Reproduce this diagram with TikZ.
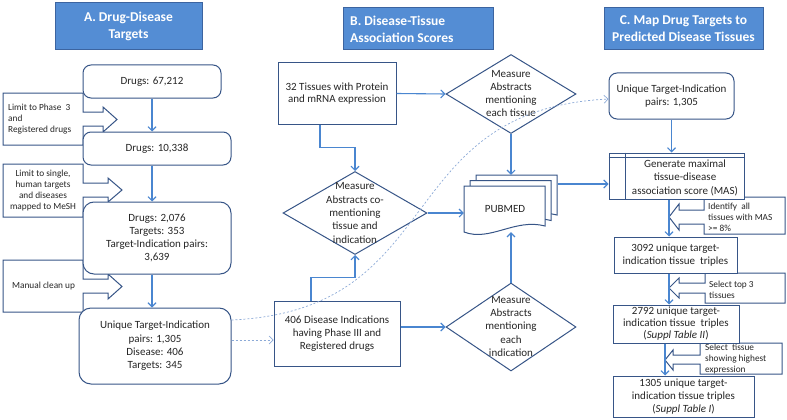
\documentclass[tikz,border=0pt]{standalone}
\usepackage{fontspec}
\setmainfont{Carlito}
\usetikzlibrary{shapes.geometric,arrows.meta,calc}
\definecolor{bord}{RGB}{55,85,135}
\definecolor{arrc}{RGB}{74,134,208}
\definecolor{hdr}{RGB}{84,141,212}
\definecolor{hdrb}{RGB}{60,100,160}
\definecolor{txt}{RGB}{38,38,38}
\definecolor{dsh}{RGB}{140,170,215}
\begin{document}
\begin{tikzpicture}[x=1pt,y=-1pt,
 every node/.style={text=txt},
 fnt/.style={font=\fontsize{11}{13.3}\selectfont},
 box/.style={draw=bord,line width=1pt,fill=white,inner sep=0pt,align=center,fnt},
 rbox/.style={box,rounded corners=8pt},
 hdrbox/.style={draw=hdrb,fill=hdr,line width=1pt,inner sep=0pt},
 hdrtxt/.style={inner sep=0pt,text=white,font=\bfseries\fontsize{13.5}{17}\selectfont},
 dia/.style={draw=bord,line width=1pt,fill=white,diamond,inner sep=0pt},
 lbl/.style={inner sep=0pt,align=center,fnt},
 cshape/.style={draw=bord,line width=1pt,fill=white,line join=miter},
 ctxt/.style={inner sep=0pt,font=\fontsize{9.3}{11}\selectfont},
 flow/.style={draw=arrc,line width=1.1pt,-{Straight Barb[length=4pt,width=8pt]}},
 dflow/.style={draw=dsh,line width=0.7pt,dash pattern=on 2pt off 2pt,-{Straight Barb[length=4pt,width=8pt]}},
]
\useasboundingbox (0,0) rectangle (787,420);

% ---------- headers ----------
\node[hdrbox,minimum width=147pt,minimum height=47pt] (ha) at (128.5,26.5) {};
\node[hdrtxt,align=center] (hat) at (ha) {A. Drug-Disease\\Targets};
\node[hdrbox,minimum width=150pt,minimum height=42pt] (hb) at (418,29) {};
\node[hdrtxt,align=left,anchor=west] (hbt) at (350,29) {B. Disease-Tissue\\Association Scores};
\node[hdrbox,minimum width=159pt,minimum height=42pt] (hc) at (683.5,29) {};
\node[hdrtxt,align=center] (hct) at (hc) {C. Map Drug Targets to\\Predicted Disease Tissues};

% ---------- callouts column A ----------
\draw[cshape] (3,93) -- (83,93) -- (83,112) -- (103,112) -- (103,107) -- (117,119.5) -- (103,132) -- (103,126) -- (83,126) -- (83,145) -- (3,145) -- cycle;
\node[ctxt,anchor=west,align=left] (ca1) at (8,119) {Limit to Phase\ \ 3\\and\\Registered drugs};
\draw[cshape] (3,164) -- (83,164) -- (83,183) -- (108,183) -- (108,178) -- (122,190) -- (108,202) -- (108,197) -- (83,197) -- (83,217) -- (3,217) -- cycle;
\node[ctxt,align=center] (ca2) at (43,191) {Limit to single,\\human targets\\and diseases\\mapped to MeSH};
\draw[cshape] (3,260) -- (83,260) -- (83,279) -- (108,279) -- (108,274) -- (122,286.5) -- (108,299) -- (108,293) -- (83,293) -- (83,312) -- (3,312) -- cycle;
\node[ctxt,anchor=west] (ca3) at (12,286) {Manual clean up};

% ---------- callouts column C ----------
\draw[cshape] (785,197) -- (704,197) -- (704,210) -- (679,210) -- (679,204) -- (669,217) -- (679,230) -- (679,224) -- (704,224) -- (704,234) -- (785,234) -- cycle;
\node[ctxt,anchor=west,align=left] (cc1) at (708,217) {Identify\ \ all\\tissues with MAS\\>= 8\%};
\draw[cshape] (785,273) -- (705,273) -- (705,283) -- (679,283) -- (679,278) -- (669,288) -- (679,298) -- (679,293) -- (705,293) -- (705,303) -- (785,303) -- cycle;
\node[ctxt,anchor=west,align=left] (cc2) at (709,289.5) {Select top 3\\tissues};
\draw[cshape] (782,343) -- (700,343) -- (700,355) -- (673,355) -- (673,350) -- (665,360) -- (673,370) -- (673,364) -- (700,364) -- (700,374) -- (782,374) -- cycle;
\node[ctxt,anchor=west,align=left] (cc3) at (705,359) {Select\ \ tissue\\showing highest\\expression};

% ---------- column A ----------
\node[rbox,minimum width=138pt,minimum height=33pt] (d1) at (152,81.5) {Drugs: 67,212};
\node[rbox,minimum width=148pt,minimum height=33pt] (d2) at (157,148.5) {Drugs: 10,338};
\node[rbox,minimum width=148pt,minimum height=72pt,rounded corners=11pt] (d3) at (157,238) {Drugs: 2,076\\Targets: 353\\Target-Indication pairs:\\3,639};
\node[rbox,minimum width=152pt,minimum height=76pt,rounded corners=12pt] (d4) at (155,346) {Unique Target-Indication\\pairs: 1,305\\Disease: 406\\Targets: 345};

% ---------- column B ----------
\node[box,minimum width=118pt,minimum height=61pt,fnt,font=\fontsize{11}{12.5}\selectfont] (t32) at (337,93.5) {32 Tissues with Protein\\and mRNA expression};
\node[dia,minimum width=130pt,minimum height=79pt] (mtis) at (511,94) {};
\node[lbl] (mtist) at (511,93.5) {Measure\\Abstracts\\mentioning\\each tissue};
\node[dia,minimum width=144pt,minimum height=83pt] (cdia) at (355,213) {};
\node[lbl] (cdiat) at (355,213) {Measure\\Abstracts co-\\mentioning\\tissue and\\indication};
\node[box,minimum width=126pt,minimum height=65pt] (d406) at (337,333.5) {406 Disease Indications\\having Phase III and\\Registered drugs};
\node[dia,minimum width=130pt,minimum height=88pt] (mind) at (511,327) {};
\node[lbl] (mindt) at (511,326.5) {Measure\\Abstracts\\mentioning\\each\\indication};

% PUBMED multidocument
\foreach \dx/\dy in {12/-11,6/-5.5,0/0}{
 \begin{scope}[shift={(\dx,\dy)}]
 \draw[cshape] (464,186) -- (545,186) -- (545,226) .. controls (515,218) and (490,242) .. (464,232) -- cycle;
 \end{scope}
}
\node[inner sep=0pt,minimum width=94pt,minimum height=57pt] (pubmed) at (511,203.5) {};
\node[lbl] (pubmedt) at (505,209) {PUBMED};

% ---------- column C ----------
\node[rbox,minimum width=125pt,minimum height=46pt] (u1) at (671.5,96) {Unique Target-Indication\\pairs: 1,305};
\node[box,minimum width=135pt,minimum height=46pt] (gen) at (676.5,176) {};
\draw[draw=bord,line width=1pt] ([xshift=17pt]gen.north west) -- ([xshift=17pt]gen.south west);
\draw[draw=bord,line width=1pt] ([yshift=-5pt]gen.north west) -- ([yshift=-5pt]gen.north east);
\node[lbl,font=\fontsize{11}{13.5}\selectfont] (gent) at (685,177.5) {Generate maximal\\tissue-disease\\association score (MAS)};
\node[box,minimum width=123pt,minimum height=36pt] (t3092) at (675.5,255) {3092 unique target-\\indication tissue\ \ triples};
\node[box,minimum width=126pt,minimum height=38pt,font=\fontsize{11}{12}\selectfont] (t2792) at (676,324) {2792 unique target-\\indication tissue\ \ triples\\(\textit{Suppl Table II})};
\node[box,minimum width=141pt,minimum height=41pt,font=\fontsize{11}{13}\selectfont] (t1305) at (683.5,396.5) {1305 unique target-\\indication tissue triples\\(\textit{Suppl Table I})};
\coordinate (cx) at (669,0);
\coordinate (cy) at (665,0);

% ---------- connectors ----------
\draw[flow] (d1.south) -- (d1.south |- d2.north);
\draw[flow] (d2.south -| d1.south) -- (d3.north -| d1.south);
\draw[flow] (d3.south -| d1.south) -- (d4.north -| d1.south);

\draw[flow] (t32.east) -- (mtis.west);
\draw[flow] ([xshift=-17pt]t32.south) -- ++(0,23) -| (cdia.north);
\draw[flow] ([xshift=-26pt]d406.north) -- ++(0,-23) -| (cdia.south);
\draw[flow] (d406.east |- mind.west) -- (mind.west);
\draw[flow] (mtis.south) -- (pubmed.north);
\draw[flow] (mind.north) -- (pubmed.south);
\draw[flow] (cdia.east) -- (cdia.east -| pubmed.west);
\draw[flow] (pubmed.east |- 0,184) -- (gen.west |- 0,184);

\draw[flow] (u1.south) -- (u1.south |- gen.north);
\draw[flow] (gen.south -| cx) -- (t3092.north -| cx);
\draw[flow] (t3092.south -| cx) -- (t2792.north -| cx);
\draw[flow] (t2792.south -| cy) -- (t1305.north -| cy);

\draw[dflow] ([yshift=26pt]d4.east) .. controls (450,310) and (390,110) .. ([yshift=-3pt]u1.west);
\draw[dflow] ([yshift=6pt]d4.east) -- ([yshift=6pt]d4.east -| d406.west);
\end{tikzpicture}
\end{document}
